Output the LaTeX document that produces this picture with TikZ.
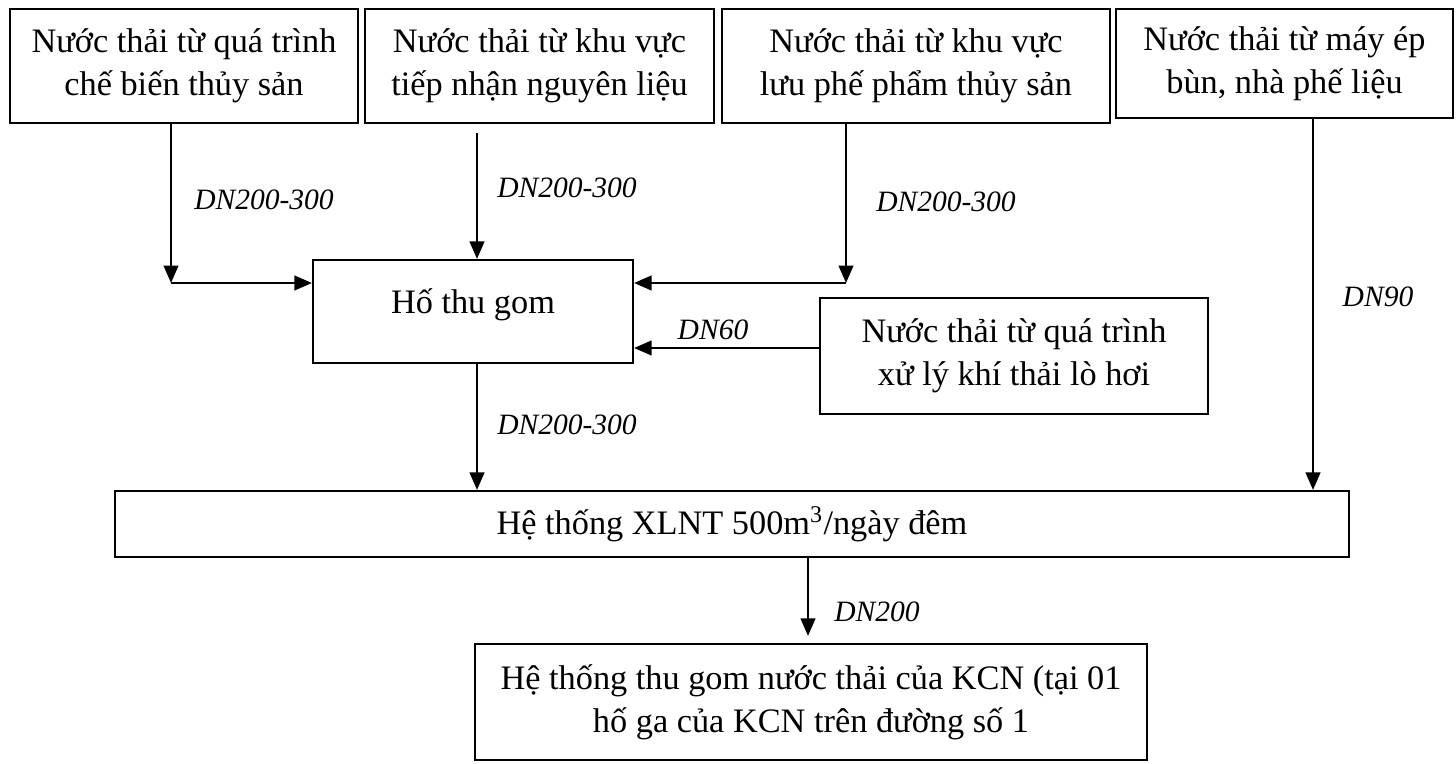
\documentclass[tikz,border=0pt]{standalone}
\usepackage{fontspec}
\setmainfont{Liberation Serif}
\usetikzlibrary{arrows.meta}

\tikzset{
	hop/.style={draw, line width=0.75pt, align=center, inner sep=0pt, font=\fontsize{12.2}{15.3}\selectfont},
	ong/.style={font=\fontsize{10.5}{12}\selectfont\itshape},
	mui/.style={line width=0.75pt, -{Triangle[length=6.2pt,width=5.2pt]}}
}

\begin{document}
\begin{tikzpicture}[x=0.0125cm, y=-0.0125cm]
	\useasboundingbox (0,0) rectangle (1456,764);
	
	% các nguồn nước thải (hàng trên)
	\node[hop, minimum width=4.35cm, minimum height=1.425cm] (chebien) at (184,66) {Nước thải từ quá trình\\chế biến thủy sản};
	\node[hop, minimum width=4.3625cm, minimum height=1.425cm] (tiepnhan) at (539.5,66) {Nước thải từ khu vực\\tiếp nhận nguyên liệu};
	\node[hop, minimum width=4.85cm, minimum height=1.425cm] (luu) at (916,66) {Nước thải từ khu vực\\lưu phế phẩm thủy sản};
	\node[hop, minimum width=4.2125cm, minimum height=1.3625cm] (mayep) at (1284.5,63.5) {Nước thải từ máy ép\\bùn, nhà phế liệu};
	
	% hố thu gom, lò hơi, XLNT, KCN
	\node[hop, minimum width=4cm, minimum height=1.2875cm, text depth=0.75em] (hothu) at (473,311.5) {Hố thu gom};
	\node[hop, minimum width=4.85cm, minimum height=1.45cm] (lohoi) at (1014,356) {Nước thải từ quá trình\\xử lý khí thải lò hơi};
	\node[hop, minimum width=15.425cm, minimum height=0.825cm] (xlnt) at (732,524) {Hệ thống XLNT 500m\textsuperscript{3}/ngày đêm};
	\node[hop, minimum width=8.4cm, minimum height=1.45cm] (kcn) at (811,702) {Hệ thống thu gom nước thải của KCN (tại 01\\hố ga của KCN trên đường số 1};
	
	% đường ống vào hố thu gom
	\coordinate (g1) at (171,283);
	\draw[mui] (chebien.south -| g1) -- (g1);
	\draw[mui] (g1) -- (g1 -| hothu.west);
	\coordinate (d2) at (477,133);
	\draw[mui] (d2) -- (d2 |- hothu.north);
	\coordinate (g3) at (846,283);
	\draw[mui] (luu.south -| g3) -- (g3);
	\draw[mui] (g3) -- (g3 -| hothu.east);
	\coordinate (d60) at (0,348);
	\draw[mui] (lohoi.west |- d60) -- (hothu.east |- d60);
	
	% đường ống vào XLNT và ra KCN
	\coordinate (d4) at (1313,0);
	\draw[mui] (mayep.south -| d4) -- (xlnt.north -| d4);
	\draw[mui] (hothu.south -| d2) -- (xlnt.north -| d2);
	\coordinate (d5) at (808,0);
	\draw[mui, shorten >=2.5pt] (xlnt.south -| d5) -- (kcn.north -| d5);
	
	% nhãn đường kính ống
	\node[ong] (n1) at (264,200) {DN200-300};
	\node[ong] (n2) at (567,188) {DN200-300};
	\node[ong] (n3) at (946,202) {DN200-300};
	\node[ong] (n60) at (713,330) {DN60};
	\node[ong] (n90) at (1378,297) {DN90};
	\node[ong] (n4) at (567,425) {DN200-300};
	\node[ong] (n200) at (877,612) {DN200};
\end{tikzpicture}
\end{document}
